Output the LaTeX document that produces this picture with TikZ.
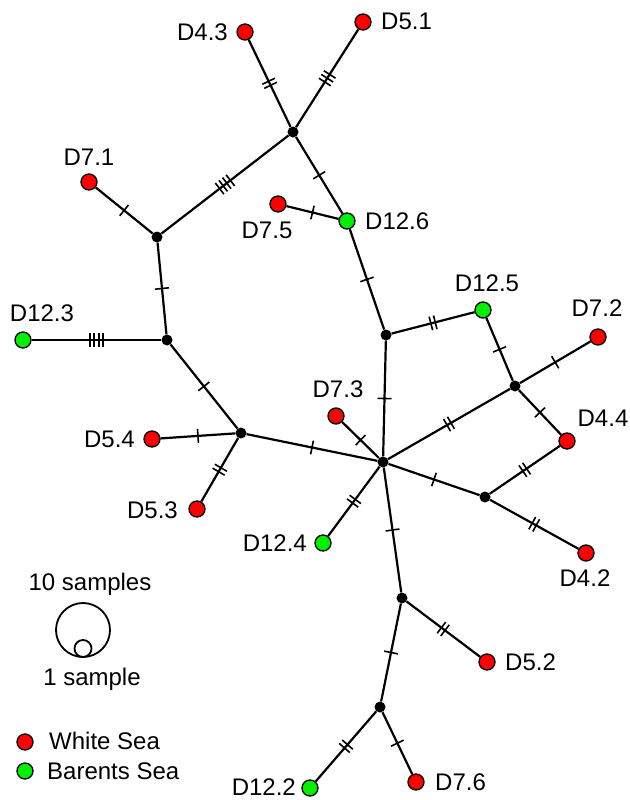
\documentclass[tikz,border=0pt]{standalone}
\usepackage{fontspec}
\setmainfont{Liberation Sans}
\usetikzlibrary{backgrounds,decorations.markings}
\definecolor{ws}{RGB}{255,0,0}
\definecolor{bs}{RGB}{0,240,0}
\begin{document}
\begin{tikzpicture}[x=1pt,y=-1pt,
  hap/.style={circle,draw=black,line width=1.3pt,minimum size=16pt,inner sep=0pt},
  wsea/.style={hap,fill=ws},
  bsea/.style={hap,fill=bs},
  med/.style={circle,fill=black,minimum size=11pt,inner sep=0pt},
  lbl/.style={inner sep=0pt,font=\fontsize{24}{27}\selectfont,text depth=0pt},
  ln/.style={line width=2.2pt},
  nt/.style={postaction={decorate,decoration={markings,mark=at position 0.5 with {\foreach \k in {1,...,#1}{\draw[line width=1.6pt] ({(\k-(#1+1)/2)*4.5},-7)--({(\k-(#1+1)/2)*4.5},7);}}}}}
]
\useasboundingbox (0,0) rectangle (629,800);
% haplotype nodes
\node[wsea] (d43) at (245,32) {};
\node[wsea] (d51) at (363,22) {};
\node[med] (top) at (293,132) {};
\node[wsea] (d71) at (89,182) {};
\node[med] (l1) at (157,237) {};
\node[wsea] (d75) at (278,204) {};
\node[bsea] (d126) at (347,221) {};
\node[bsea] (d123) at (23,340) {};
\node[med] (l2) at (167,340) {};
\node[med] (mid) at (386,335) {};
\node[bsea] (d125) at (483,310) {};
\node[wsea] (d72) at (598,337) {};
\node[med] (rt) at (515,386) {};
\node[wsea] (d73) at (336,416) {};
\node[wsea] (d54) at (152,439) {};
\node[med] (l3) at (241,433) {};
\node[med] (hub) at (383,462) {};
\node[wsea] (d44) at (567,441) {};
\node[med] (lr) at (485,497) {};
\node[wsea] (d53) at (197,509) {};
\node[bsea] (d124) at (323,543) {};
\node[wsea] (d42) at (586,553) {};
\node[med] (low) at (402,598) {};
\node[wsea] (d52) at (487,662) {};
\node[med] (bot) at (380,707) {};
\node[bsea] (d122) at (310,788) {};
\node[wsea] (d76) at (416,782) {};
% labels
\node[lbl,anchor=east] (t43) at (228,32) {D4.3};
\node[lbl,anchor=west] (t51) at (381,21) {D5.1};
\node[lbl] (t71) at (89,157) {D7.1};
\node[lbl] (t75) at (267,230) {D7.5};
\node[lbl,anchor=west] (t126) at (365,221) {D12.6};
\node[lbl] (t123) at (42,313) {D12.3};
\node[lbl] (t125) at (487,283) {D12.5};
\node[lbl] (t72) at (597,308) {D7.2};
\node[lbl] (t73) at (338,389) {D7.3};
\node[lbl,anchor=east] (t54) at (135,439) {D5.4};
\node[lbl,anchor=east] (t53) at (178,510) {D5.3};
\node[lbl,anchor=east] (t124) at (307,543) {D12.4};
\node[lbl] (t44) at (603,418) {D4.4};
\node[lbl] (t42) at (585,578) {D4.2};
\node[lbl,anchor=west] (t52) at (505,662) {D5.2};
\node[lbl,anchor=west] (t76) at (435,782) {D7.6};
\node[lbl,anchor=east] (t122) at (296,787) {D12.2};
% legend
\node[lbl] (ten) at (90,582) {10 samples};
\node[circle,draw=black,line width=1.8pt,minimum size=54pt,inner sep=0pt] (big) at (83,630) {};
\node[circle,draw=black,line width=1.8pt,minimum size=17pt,inner sep=0pt] (small) at (83,648.5) {};
\node[lbl] (one) at (92,677) {1 sample};
\node[wsea] (kw) at (25,742) {};
\node[lbl,anchor=west] (tw) at (49,741) {White Sea};
\node[bsea] (kb) at (25,771) {};
\node[lbl,anchor=west] (tb) at (47,771) {Barents Sea};
% edges
\begin{scope}[on background layer]
\fill[white] (0,0) rectangle (629,800);
\draw[ln,nt=2] (d43) -- (top);
\draw[ln,nt=3] (d51) -- (top);
\draw[ln,nt=4] (top) -- (l1);
\draw[ln,nt=1] (top) -- (d126);
\draw[ln,nt=1] (d75) -- (d126);
\draw[ln,nt=1] (d71) -- (l1);
\draw[ln,nt=1] (l1) -- (l2);
\draw[ln,nt=4] (d123) -- (l2);
\draw[ln,nt=1] (l2) -- (l3);
\draw[ln,nt=1] (d126) -- (mid);
\draw[ln,nt=2] (mid) -- (d125);
\draw[ln,nt=1] (d125) -- (rt);
\draw[ln,nt=1] (rt) -- (d72);
\draw[ln,nt=1] (rt) -- (d44);
\draw[ln,nt=1] (mid) -- (hub);
\draw[ln,nt=2] (hub) -- (rt);
\draw[ln,nt=1] (d54) -- (l3);
\draw[ln,nt=1] (l3) -- (hub);
\draw[ln,nt=2] (l3) -- (d53);
\draw[ln,nt=1] (d73) -- (hub);
\draw[ln,nt=2] (hub) -- (d124);
\draw[ln,nt=1] (hub) -- (lr);
\draw[ln,nt=2] (lr) -- (d44);
\draw[ln,nt=2] (lr) -- (d42);
\draw[ln,nt=1] (hub) -- (low);
\draw[ln,nt=2] (low) -- (d52);
\draw[ln,nt=1] (low) -- (bot);
\draw[ln,nt=2] (bot) -- (d122);
\draw[ln,nt=1] (bot) -- (d76);
\end{scope}
\end{tikzpicture}
\end{document}
